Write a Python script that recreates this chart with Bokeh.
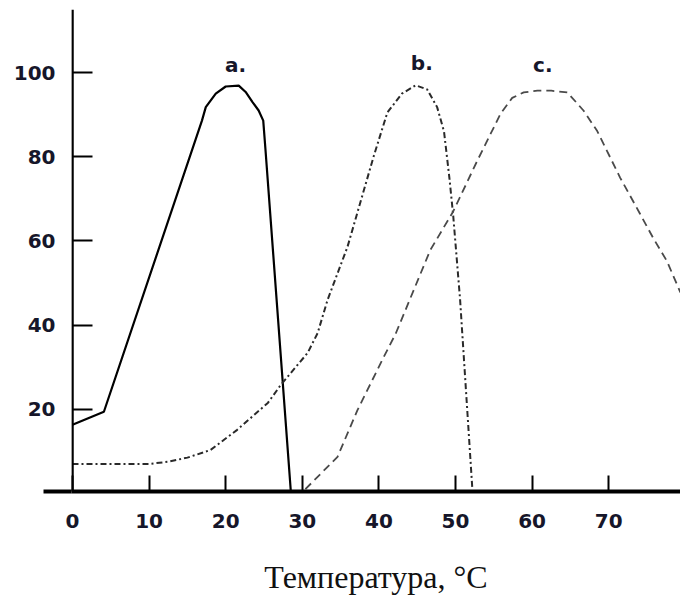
from bokeh.plotting import figure
from bokeh.models import Range1d, FixedTicker, LinearAxis
from bokeh.core.properties import value
from bokeh.embed import file_html
from bokeh.resources import INLINE

# Curve a (solid)
a_x = [0, 4.1, 16.9, 17.4, 18.7, 20.0, 21.7, 22.6, 23.5, 24.3, 24.9, 25.2, 28.5]
a_y = [16.3, 19.4, 88.6, 91.8, 95.0, 96.7, 96.9, 95.4, 93.0, 91.0, 88.6, 81.5, 0.5]

# Curve b (dash-dot)
b_x = [0, 5, 10, 12.4, 15, 18, 21.5, 25.5, 27.2, 30.7, 32, 33.3, 35.9, 39.3, 41.1,
       43, 44.8, 46.3, 47.6, 48.5, 49.2, 49.7, 50.6, 52.2]
b_y = [7, 7, 7, 7.5, 8.5, 10.3, 15.1, 21.5, 25.8, 33.4, 38.1, 46, 58.6, 80, 90.5,
       95, 97, 96, 91.8, 86, 75, 66, 46, 1]

# Curve c (dashed)
c_x = [30.4, 34.6, 37.2, 40.6, 42.2, 46.7, 49.7, 52.8, 55.9, 57.4, 58.9, 60.7, 62.5,
       64.6, 66.7, 68.5, 69.8, 71.5, 74.1, 75.8, 77.6, 79.3, 80]
c_y = [1, 8.7, 19.8, 32.3, 38, 57.8, 67, 78.9, 90.3, 94, 95.3, 95.7, 95.7,
       95.3, 91, 86.1, 81.3, 75, 66.4, 60.7, 55.2, 48, 46]

curve_names = ["a.", "b.", "c."]
name_x = [21.3, 45.6, 61.4]
name_y = [101.8, 102.3, 101.7]

x_ticks = [0, 10, 20, 30, 40, 50, 60, 70, 80]
y_ticks = [20, 40, 60, 80, 100]
x_title = "Температура, °C"

x_start, x_end = -0.13, 79.37
y_start, y_end = 0.45, 115

p = figure(width=680, height=602, output_backend="svg", toolbar_location=None,
           x_range=Range1d(x_start, x_end), y_range=Range1d(y_start, y_end),
           min_border_left=71, min_border_right=0, min_border_top=9,
           min_border_bottom=111)
p.outline_line_color = None
p.xgrid.visible = False
p.ygrid.visible = False
p.background_fill_color = "white"
p.border_fill_color = "white"

label_color = "#16162a"

# x axis
xa = p.xaxis[0]
xa.ticker = FixedTicker(ticks=x_ticks)
xa.major_label_text_font = "DejaVu Sans"
xa.major_label_text_font_style = "bold"
xa.major_label_text_font_size = "20px"
xa.major_label_text_color = label_color
xa.axis_line_color = "black"
xa.axis_line_width = 4
xa.major_tick_line_color = "black"
xa.major_tick_line_width = 2
xa.minor_tick_line_color = None
xa.major_tick_out = 0
xa.major_tick_in = 16
xa.major_label_standoff = 22
xa.axis_label = x_title
xa.axis_label_text_font = "Liberation Serif"
xa.axis_label_text_font_style = "normal"
xa.axis_label_text_font_size = "32px"
xa.axis_label_text_color = "#111111"
xa.axis_label_standoff = 28

# y axis line + inward ticks at x = 0
ya = p.yaxis[0]
ya.fixed_location = 0
ya.ticker = FixedTicker(ticks=y_ticks)
ya.axis_line_color = "black"
ya.axis_line_width = 2.5
ya.major_tick_line_color = "black"
ya.major_tick_line_width = 2
ya.minor_tick_line_color = None
ya.major_tick_out = 0
ya.major_tick_in = 20
ya.major_label_text_color = None

# x-axis line continued to the left of the y axis
stub = LinearAxis(ticker=FixedTicker(ticks=[y_start]))
stub.axis_line_color = None
stub.major_tick_line_color = "black"
stub.major_tick_line_width = 4
stub.major_tick_line_cap = "butt"
stub.minor_tick_line_color = None
stub.major_tick_in = 0
stub.major_tick_out = 28
stub.major_label_text_font_size = "1px"
stub.major_label_text_color = None
stub.major_label_standoff = 0
p.add_layout(stub, "left")

# y tick labels
yl = LinearAxis(ticker=FixedTicker(ticks=y_ticks))
yl.axis_line_color = None
yl.major_tick_line_color = None
yl.minor_tick_line_color = None
yl.major_tick_out = 0
yl.major_tick_in = 0
yl.major_label_text_font = "DejaVu Sans"
yl.major_label_text_font_style = "bold"
yl.major_label_text_font_size = "20px"
yl.major_label_text_color = label_color
yl.major_label_standoff = -12
p.add_layout(yl, "left")

p.line(a_x, a_y, line_color="black", line_width=2.2)
p.line(b_x, b_y, line_color="#2a2a2a", line_width=2, line_dash="6 3 2 3")
p.line(c_x, c_y, line_color="#4a4a4a", line_width=1.8, line_dash="8 5")

p.text(x=name_x, y=name_y, text=curve_names, text_font=value("DejaVu Sans"),
       text_font_style="bold", text_font_size="20px", text_color=label_color,
       text_align="center", text_baseline="middle")

open("out.html", "w").write(file_html(p, INLINE))
